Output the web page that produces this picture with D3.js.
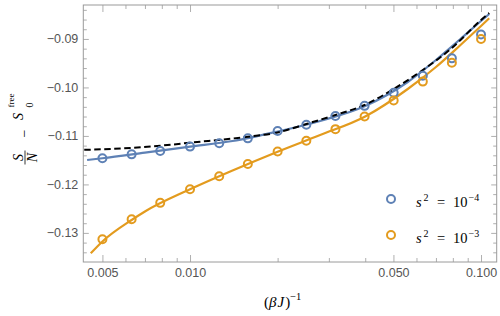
<!DOCTYPE html>
<html>
<head>
<meta charset="utf-8">
<script src="https://cdnjs.cloudflare.com/ajax/libs/d3/7.8.5/d3.min.js"></script>
<style>
body { margin: 0; background: #fff; }
svg { display: block; }
.tick text { font-family: "Liberation Sans", Arial, sans-serif; font-size: 12.5px; fill: #555; }
.tick line { stroke: #9a9a9a; stroke-width: 0.8; }
.math { font-family: "Liberation Serif", "Times New Roman", serif; fill: #000; }
</style>
</head>
<body>
<svg id="chart" width="500" height="316"></svg>
<script>
// numerical points (same x grid for both series)
var pointX = [0.005, 0.0063, 0.0079, 0.01, 0.0126, 0.0158, 0.02, 0.0251, 0.0316, 0.0398, 0.0501, 0.0631, 0.0794, 0.1];
var blueY = [-0.1146, -0.1138, -0.1131, -0.1122, -0.1115, -0.1105, -0.1090, -0.1077, -0.1059, -0.1038, -0.1011, -0.0976, -0.0940, -0.0891];
var orangeY = [-0.1313, -0.1272, -0.1238, -0.1210, -0.1183, -0.1158, -0.1132, -0.1110, -0.1086, -0.1060, -0.1027, -0.0988, -0.0949, -0.0900];

// theory curves
var blueCurveX = [0.00443, 0.005, 0.007, 0.01, 0.014, 0.02, 0.028, 0.04, 0.056, 0.07, 0.085, 0.1, 0.1067];
var blueCurveY = [-0.11497, -0.11461, -0.11346, -0.11222, -0.11105, -0.10909, -0.10692, -0.10383, -0.09888, -0.09434, -0.09001, -0.08630, -0.08486];
var orangeCurveX = [0.00456, 0.005, 0.0063, 0.007, 0.01, 0.014, 0.02, 0.028, 0.04, 0.056, 0.07, 0.085, 0.1, 0.1067];
var orangeCurveY = [-0.13421, -0.13177, -0.12734, -0.12559, -0.12101, -0.11713, -0.11325, -0.10981, -0.10599, -0.10032, -0.09579, -0.09125, -0.08733, -0.08574];
var dashX = [0.00433, 0.005, 0.0079, 0.01, 0.0158, 0.02, 0.0251, 0.0316, 0.0398, 0.0501, 0.0631, 0.0794, 0.1, 0.1067];
var dashY = [-0.11286, -0.11276, -0.11202, -0.11140, -0.11016, -0.10929, -0.10754, -0.10568, -0.10362, -0.10032, -0.09640, -0.09187, -0.08609, -0.08465];

var xMajor = [0.005, 0.01, 0.05, 0.1];
var xMinor = [0.006, 0.007, 0.008, 0.009, 0.02, 0.03, 0.04, 0.06, 0.07, 0.08, 0.09];
var yMajor = [-0.13, -0.12, -0.11, -0.10, -0.09];
var yMinor = [-0.134, -0.132, -0.128, -0.126, -0.124, -0.122, -0.118, -0.116, -0.114, -0.112,
    -0.108, -0.106, -0.104, -0.102, -0.098, -0.096, -0.094, -0.092, -0.088, -0.086, -0.084];

var legendExp = ["\u22124", "\u22123"];
var colors = ["#5E81B5", "#E39B1E"];

var pLeft = 83.3, pRight = 496.7, pTop = 5, pBottom = 262;

var svg = d3.select("#chart");

var x = d3.scaleLog().domain([0.004298, 0.1132]).range([pLeft, pRight]);
var y = d3.scaleLinear().domain([-0.136, -0.083]).range([pBottom, pTop]);

// frame
svg.append("rect")
    .attr("x", pLeft).attr("y", pTop)
    .attr("width", pRight - pLeft).attr("height", pBottom - pTop)
    .attr("fill", "none").attr("stroke", "#9a9a9a").attr("stroke-width", 1);

function drawAxis(axis, tr) {
    var g = svg.append("g").attr("transform", tr).call(axis);
    g.select(".domain").remove();
    return g;
}

// bottom / top
drawAxis(d3.axisBottom(x).tickValues(xMajor).tickSize(-7).tickPadding(6).tickFormat(d3.format(".3f")), "translate(0," + pBottom + ")");
drawAxis(d3.axisBottom(x).tickValues(xMinor).tickSize(-4).tickFormat(""), "translate(0," + pBottom + ")");
drawAxis(d3.axisTop(x).tickValues(xMajor).tickSize(-7).tickFormat(""), "translate(0," + pTop + ")");
drawAxis(d3.axisTop(x).tickValues(xMinor).tickSize(-4).tickFormat(""), "translate(0," + pTop + ")");

// left / right
drawAxis(d3.axisLeft(y).tickValues(yMajor).tickSize(-5.5).tickPadding(5).tickFormat(d3.format(".2f")), "translate(" + pLeft + ",0)");
drawAxis(d3.axisLeft(y).tickValues(yMinor).tickSize(-3.5).tickFormat(""), "translate(" + pLeft + ",0)");
drawAxis(d3.axisRight(y).tickValues(yMajor).tickSize(-5.5).tickFormat(""), "translate(" + pRight + ",0)");
drawAxis(d3.axisRight(y).tickValues(yMinor).tickSize(-3.5).tickFormat(""), "translate(" + pRight + ",0)");

var plot = svg.append("g");

function curve(xs, ys) {
    var line = d3.line()
        .x(function (d) { return x(d); })
        .y(function (d, i) { return y(ys[i]); })
        .curve(d3.curveMonotoneX);
    return line(xs);
}

plot.append("path")
    .attr("d", curve(orangeCurveX, orangeCurveY))
    .attr("fill", "none").attr("stroke", colors[1]).attr("stroke-width", 2.2);
plot.append("path")
    .attr("d", curve(blueCurveX, blueCurveY))
    .attr("fill", "none").attr("stroke", colors[0]).attr("stroke-width", 2.2);
plot.append("path")
    .attr("d", curve(dashX, dashY))
    .attr("fill", "none").attr("stroke", "#000").attr("stroke-width", 2)
    .attr("stroke-dasharray", "6.5,3.5");

[blueY, orangeY].forEach(function (ys, k) {
    plot.selectAll(".pt" + k)
        .data(pointX)
        .enter()
        .append("circle")
        .attr("class", "pt" + k)
        .attr("cx", function (d) { return x(d); })
        .attr("cy", function (d, i) { return y(ys[i]); })
        .attr("r", 4)
        .attr("fill", "none")
        .attr("stroke", colors[k])
        .attr("stroke-width", 2);
});

// legend
legendExp.forEach(function (e, k) {
    var cy = 199 + k * 36;
    svg.append("circle")
        .attr("cx", 391).attr("cy", cy).attr("r", 4)
        .attr("fill", "none").attr("stroke", colors[k]).attr("stroke-width", 2);
    var t = svg.append("text").attr("class", "math").attr("y", cy + 8).attr("font-size", 14.5);
    t.append("tspan").attr("x", 416).attr("font-style", "italic").text("s");
    t.append("tspan").attr("x", 423.5).attr("dy", -6).attr("font-size", 10).text("2");
    t.append("tspan").attr("x", 437).attr("dy", 6).text("=");
    t.append("tspan").attr("x", 453).text("10");
    t.append("tspan").attr("x", 468.5).attr("dy", -6).attr("font-size", 10).text(e);
});

// x label: (beta J)^-1
var xl = svg.append("text").attr("class", "math").attr("x", 264).attr("y", 307).attr("font-size", 15);
xl.append("tspan").text("(");
xl.append("tspan").attr("font-style", "italic").text("\u03B2");
xl.append("tspan").attr("font-style", "italic").attr("dx", 1).text("J");
xl.append("tspan").attr("dx", 1).text(")");
xl.append("tspan").attr("dy", -7).attr("font-size", 10.5).text("\u22121");

// y label: S/N - S_0^free, rotated
var yl = svg.append("g").attr("class", "math").attr("transform", "translate(25,131) rotate(-90)");
yl.append("text").attr("x", -26.5).attr("y", -2.5).attr("text-anchor", "middle")
    .attr("font-size", 14).attr("font-style", "italic").text("S");
yl.append("line").attr("x1", -33.5).attr("x2", -19.5).attr("y1", 0).attr("y2", 0)
    .attr("stroke", "#000").attr("stroke-width", 0.8);
yl.append("text").attr("x", -26.5).attr("y", 11.5).attr("text-anchor", "middle")
    .attr("font-size", 14).attr("font-style", "italic").text("N");
yl.append("text").attr("x", -2.5).attr("y", 4).attr("text-anchor", "middle")
    .attr("font-size", 14).text("\u2212");
yl.append("text").attr("x", 11).attr("y", -2.5)
    .attr("font-size", 14).attr("font-style", "italic").text("S");
yl.append("text").attr("x", 23.5).attr("y", 7.5).attr("font-size", 10).text("0");
yl.append("text").attr("x", 23.5).attr("y", -11.5).attr("font-size", 9).text("free");
</script>
</body>
</html>
